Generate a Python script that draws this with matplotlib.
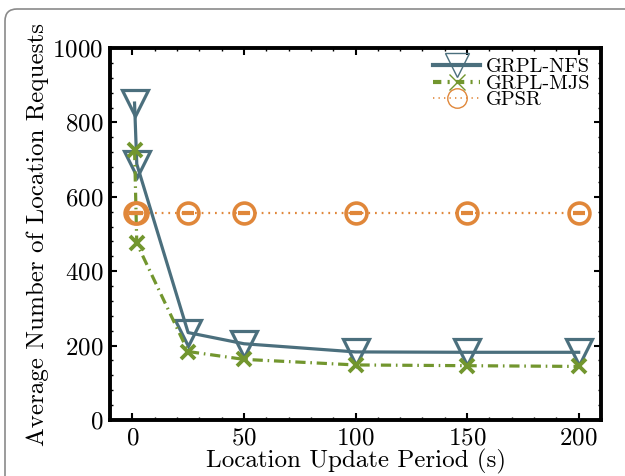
import matplotlib
matplotlib.use("Agg")
import matplotlib.pyplot as plt
from matplotlib.patches import FancyBboxPatch
from matplotlib.lines import Line2D
from matplotlib.ticker import AutoMinorLocator

plt.rcParams['font.family'] = ['cmr10', 'DejaVu Serif']
plt.rcParams['mathtext.fontset'] = 'cm'
plt.rcParams['axes.formatter.use_mathtext'] = True

# data
period = [1, 2, 25, 50, 100, 150, 200]
grpl_nfs = [852, 688, 235, 205, 183, 182, 182]
grpl_mjs = [726, 475, 184, 163, 148, 146, 144]
gpsr = [556, 556, 556, 556, 556, 556, 556]
labels = ['GRPL-NFS', 'GRPL-MJS', 'GPSR']

c_nfs = '#4b6f7d'
c_mjs = '#72962e'
c_gpsr = '#e0873a'

fig = plt.figure(figsize=(6.25, 4.76), dpi=100)

# rounded frame around the figure
frame = FancyBboxPatch((5, -40), 660, 507, boxstyle='round,pad=0,rounding_size=12',
                       transform=None, fc='none', ec='#8a8a8a', lw=1.2)
fig.patches.append(frame)

ax = fig.add_axes([110 / 625, 56 / 476, 491 / 625, 372 / 476])

ax.plot(period, grpl_nfs, '-', color=c_nfs, lw=2.3, marker='v', ms=19,
        mfc='none', mec=c_nfs, mew=2.3)
ax.plot(period, grpl_mjs, color=c_mjs, lw=2.3, dashes=[3.2, 1.5, 0.5, 1.5],
        marker='x', ms=10, mec=c_mjs, mew=2.8)
ax.plot(period, gpsr, color=c_gpsr, lw=1.6, dashes=[0.8, 2.2],
        marker='o', ms=15, mfc='none', mec=c_gpsr, mew=2.6)
ax.plot(period, gpsr, ls='none', marker='_', ms=9, mec=c_gpsr, mew=3)

ax.set_xlim(-10, 210)
ax.set_ylim(0, 1000)
ax.set_xticks([0, 50, 100, 150, 200])
ax.set_yticks([0, 200, 400, 600, 800, 1000])
ax.xaxis.set_minor_locator(AutoMinorLocator(5))
ax.yaxis.set_minor_locator(AutoMinorLocator(5))
ax.tick_params(which='both', direction='in', top=True, right=True, labelsize=18, width=1.5)
ax.tick_params(which='major', length=5, pad=5)
ax.tick_params(which='minor', length=2.5, width=1)
for s in ax.spines.values():
    s.set_linewidth(2.8)

ax.set_xlabel('Location Update Period (s)', fontsize=18, labelpad=0)
ax.set_ylabel('Average Number of Location Requests', fontsize=18, labelpad=2)

handles = [
    Line2D([], [], color=c_nfs, lw=3, marker='v', ms=17, mfc='none', mec=c_nfs, mew=1),
    Line2D([], [], color=c_mjs, lw=3, dashes=[2, 1.5, 0.5, 1.5], marker='x', ms=12, mec=c_mjs, mew=1),
    Line2D([], [], color=c_gpsr, lw=1.2, dashes=[0.8, 2.5], marker='o', ms=14, mfc='none', mec=c_gpsr, mew=1),
]
ax.legend(handles, labels, loc='upper right', frameon=False, fontsize=14.7,
          handlelength=2.3, handletextpad=0.3, labelspacing=-0.1,
          borderaxespad=0.1, bbox_to_anchor=(1.0, 1.0))

fig.savefig('out.png', dpi=100)
